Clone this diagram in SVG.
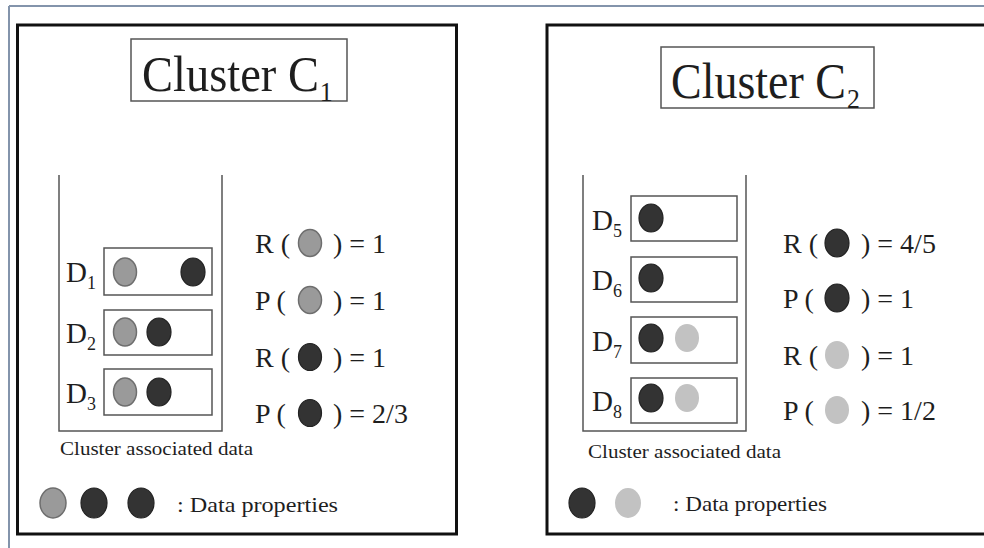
<svg xmlns="http://www.w3.org/2000/svg" width="984" height="548" viewBox="0 0 984 548">
<defs>
<style>
.t{font-family:"Liberation Serif","Times New Roman",serif;fill:#1e1e1e}
.title{font-size:50px}
.sub{font-size:28px}
.dl{font-size:29px}
.ds{font-size:18px}
.eq{font-size:28px}
.cap{font-size:18px}
.leg{font-size:22px}
.panel{fill:#fff;stroke:#111;stroke-width:3}
.tbox{fill:#fff;stroke:#555;stroke-width:1.5}
.cup{fill:none;stroke:#555;stroke-width:1.5}
.dbox{fill:#fff;stroke:#555;stroke-width:1.5}
.g{fill:#9a9a9a;stroke:#6e6e6e;stroke-width:1.5}
.k{fill:#333;stroke:#222;stroke-width:1.2}
.l{fill:#c2c2c2}
</style>
</defs>
<rect x="0" y="0" width="984" height="548" fill="#fff"/>
<g id="frame">
<line x1="9" y1="6" x2="9" y2="548" stroke="#8394ab" stroke-width="2"/>
<line x1="9" y1="6" x2="984" y2="6" stroke="#8394ab" stroke-width="2"/>
</g>

<g id="cluster1">
<rect class="panel" x="17.5" y="25" width="439" height="509"/>
<g id="title1">
<rect class="tbox" x="131" y="39" width="216" height="62"/>
<text class="t title" transform="translate(142,91) scale(0.93,1)">Cluster C<tspan class="sub" dx="1" dy="10">1</tspan></text>
</g>
<g id="data1">
<path class="cup" d="M59,175 V431 H222 V175"/>
<g id="D1">
<rect class="dbox" x="104" y="248" width="108" height="47"/>
<text class="t dl" x="66" y="282">D<tspan class="ds" dy="7">1</tspan></text>
<ellipse class="g" cx="125" cy="272" rx="11.5" ry="14"/>
<ellipse class="k" cx="193" cy="272" rx="12" ry="14"/>
</g>
<g id="D2">
<rect class="dbox" x="104" y="310" width="108" height="45"/>
<text class="t dl" x="66" y="343">D<tspan class="ds" dy="7">2</tspan></text>
<ellipse class="g" cx="125" cy="332" rx="11.5" ry="14"/>
<ellipse class="k" cx="159" cy="332" rx="12" ry="14"/>
</g>
<g id="D3">
<rect class="dbox" x="104" y="369" width="108" height="46"/>
<text class="t dl" x="66" y="403">D<tspan class="ds" dy="7">3</tspan></text>
<ellipse class="g" cx="125" cy="392" rx="11.5" ry="14"/>
<ellipse class="k" cx="159" cy="392" rx="12" ry="14"/>
</g>
<text class="t cap" x="60" y="455" textLength="193" lengthAdjust="spacingAndGlyphs">Cluster associated data</text>
</g>
<g id="eq1">
<text class="t eq" x="255" y="253">R (</text><ellipse class="g" cx="310" cy="243" rx="11.5" ry="13.5"/><text class="t eq" x="333" y="253">) = 1</text>
<text class="t eq" x="255" y="310">P (</text><ellipse class="g" cx="310" cy="300" rx="11.5" ry="13.5"/><text class="t eq" x="333" y="310">) = 1</text>
<text class="t eq" x="255" y="367">R (</text><ellipse class="k" cx="310" cy="357" rx="11.5" ry="13.5"/><text class="t eq" x="333" y="367">) = 1</text>
<text class="t eq" x="255" y="423">P (</text><ellipse class="k" cx="310" cy="413" rx="11.5" ry="13.5"/><text class="t eq" x="333" y="423">) = 2/3</text>
</g>
<g id="legend1">
<ellipse class="g" cx="53" cy="503" rx="13" ry="15"/>
<ellipse class="k" cx="94" cy="503" rx="13" ry="15"/>
<ellipse class="k" cx="141" cy="503" rx="13" ry="15"/>
<text class="t leg" x="177" y="512" textLength="161" lengthAdjust="spacingAndGlyphs">: Data properties</text>
</g>
</g>

<g id="cluster2">
<rect class="panel" x="547" y="25" width="460" height="509"/>
<g id="title2">
<rect class="tbox" x="661" y="47" width="213" height="61"/>
<text class="t title" transform="translate(671,98) scale(0.92,1)">Cluster C<tspan class="sub" dx="1" dy="10">2</tspan></text>
</g>
<g id="data2">
<path class="cup" d="M583,175 V431 H746 V175"/>
<g id="D5">
<rect class="dbox" x="631" y="196" width="106" height="45"/>
<text class="t dl" x="592" y="230">D<tspan class="ds" dy="7">5</tspan></text>
<ellipse class="k" cx="651" cy="218" rx="12" ry="14"/>
</g>
<g id="D6">
<rect class="dbox" x="631" y="257" width="106" height="45"/>
<text class="t dl" x="592" y="290">D<tspan class="ds" dy="7">6</tspan></text>
<ellipse class="k" cx="651" cy="278" rx="12" ry="14"/>
</g>
<g id="D7">
<rect class="dbox" x="631" y="317" width="106" height="46"/>
<text class="t dl" x="592" y="351">D<tspan class="ds" dy="7">7</tspan></text>
<ellipse class="k" cx="651" cy="338" rx="12" ry="14"/>
<ellipse class="l" cx="687" cy="338" rx="12" ry="14"/>
</g>
<g id="D8">
<rect class="dbox" x="631" y="378" width="106" height="45"/>
<text class="t dl" x="592" y="411">D<tspan class="ds" dy="7">8</tspan></text>
<ellipse class="k" cx="651" cy="398" rx="12" ry="14"/>
<ellipse class="l" cx="687" cy="398" rx="12" ry="14"/>
</g>
<text class="t cap" x="588" y="458" textLength="193" lengthAdjust="spacingAndGlyphs">Cluster associated data</text>
</g>
<g id="eq2">
<text class="t eq" x="783" y="253">R (</text><ellipse class="k" cx="837" cy="243" rx="12" ry="14"/><text class="t eq" x="861" y="253">) = 4/5</text>
<text class="t eq" x="783" y="308">P (</text><ellipse class="k" cx="837" cy="298" rx="12" ry="14"/><text class="t eq" x="861" y="308">) = 1</text>
<text class="t eq" x="783" y="365">R (</text><ellipse class="l" cx="837" cy="355" rx="12" ry="14"/><text class="t eq" x="861" y="365">) = 1</text>
<text class="t eq" x="783" y="420">P (</text><ellipse class="l" cx="837" cy="410" rx="12" ry="14"/><text class="t eq" x="861" y="420">) = 1/2</text>
</g>
<g id="legend2">
<ellipse class="k" cx="582" cy="503" rx="13" ry="15"/>
<ellipse class="l" cx="628" cy="503" rx="13" ry="15"/>
<text class="t leg" x="673" y="511" textLength="154" lengthAdjust="spacingAndGlyphs">: Data properties</text>
</g>
</g>
</svg>
